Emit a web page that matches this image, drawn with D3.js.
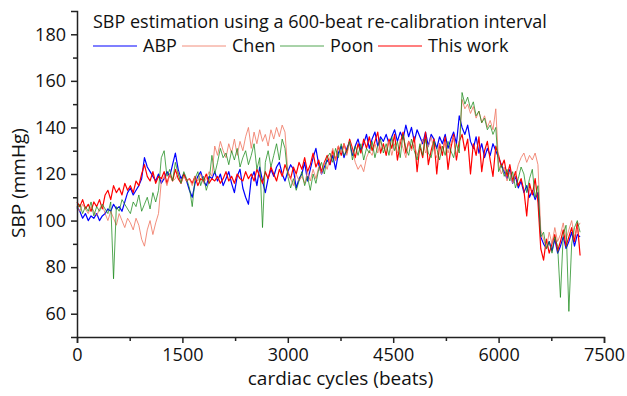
<!DOCTYPE html>
<html>
<head>
<meta charset="utf-8">
<script src="https://cdn.jsdelivr.net/npm/d3@7"></script>
<style>
  body { margin: 0; background: #fff; }
  svg { display: block; font-family: "Open Sans", "Noto Sans", sans-serif; }
</style>
</head>
<body>
<svg width="627" height="396"></svg>
<script>
const width = 627;
const height = 396;
const margin = { top: 11, right: 23, bottom: 59, left: 77 };
const innerWidth = width - margin.left - margin.right;
const innerHeight = height - margin.top - margin.bottom;

// one sample every 40 beats, 0 .. 7160
const beatStep = 40;
const xTicks = [0, 1500, 3000, 4500, 6000, 7500];
const yTicks = [60, 80, 100, 120, 140, 160, 180];

const abp = [
  106,104,101,103,100,102,101,103,100,102,
  103,105,104,107,105,106,104,108,112,114,
  111,113,115,118,127,123,121,119,117,120,
  116,118,121,119,124,129,122,118,120,117,
  113,110,116,119,121,117,115,119,118,121,
  117,120,115,118,121,116,112,119,122,114,
  110,107,118,121,115,123,117,112,118,122,
  119,123,125,120,117,121,124,122,114,118,
  120,125,117,122,127,131,124,120,123,126,
  124,128,122,129,132,127,131,134,128,132,
  135,130,133,137,131,135,138,132,136,134,
  137,133,136,139,134,138,135,141,136,140,
  134,139,136,133,138,132,137,135,131,136,
  133,137,131,135,138,133,145,140,137,141,
  134,131,136,129,133,127,131,128,133,130,
  127,124,121,118,122,116,119,114,117,112,
  115,110,113,109,112,93,90,88,91,87,
  92,86,89,93,88,91,95,89,94,93
];

const thisWork = [
  108,106,109,105,107,104,108,106,109,105,
  111,113,109,115,112,114,111,116,113,115,
  112,117,115,120,124,119,117,121,116,119,
  118,121,116,120,117,122,118,116,120,117,
  118,116,119,115,118,117,120,116,118,117,
  119,116,118,121,117,119,116,120,118,117,
  121,118,120,117,122,119,116,121,118,123,
  120,117,122,119,124,121,118,123,120,125,
  122,127,121,124,129,123,126,121,125,128,
  124,130,126,132,128,133,129,135,131,127,
  133,129,135,131,136,130,134,138,129,133,
  128,135,131,137,126,133,138,129,134,131,
  136,121,132,127,138,124,130,135,120,133,
  128,136,122,131,137,126,134,137,130,135,
  120,133,128,136,121,130,134,126,119,132,
  128,123,126,119,124,117,121,115,118,113,
  102,116,111,118,108,88,83,92,86,90,
  94,87,91,96,89,93,97,91,99,85
];

const chen = [
  106,104,107,105,103,106,104,102,105,107,
  103,100,104,101,98,103,100,97,101,99,
  96,101,98,92,89,96,100,94,99,103,
  117,119,115,120,117,118,121,116,119,117,
  118,115,119,117,120,116,118,121,119,132,
  128,134,130,127,133,129,135,128,134,130,
  136,140,131,138,133,139,134,137,132,139,
  135,140,136,141,138,121,118,115,120,117,
  119,116,121,117,122,118,123,120,125,122,
  127,131,126,132,129,133,128,134,130,125,
  122,124,121,127,130,128,133,129,134,131,
  130,134,128,133,129,135,131,127,134,130,
  133,128,131,135,129,132,136,130,127,133,
  131,134,129,133,136,128,132,152,148,150,
  146,149,144,147,142,145,140,143,139,148,
  124,120,123,117,121,116,119,124,127,129,
  125,128,126,129,124,96,92,88,95,90,
  97,91,94,99,92,96,100,93,97,99
];

const poon = [
  105,107,103,106,104,108,102,106,104,107,
  105,103,108,75,106,104,109,107,105,103,
  108,106,111,104,107,110,105,112,108,113,
  127,130,119,122,117,125,120,116,121,118,
  114,106,118,121,115,119,113,117,128,120,
  125,131,127,129,124,130,126,131,123,127,
  130,124,128,133,122,127,97,125,130,123,
  128,133,126,135,131,119,114,118,113,117,
  121,115,119,113,120,116,122,125,120,127,
  129,125,131,127,133,128,130,134,126,132,
  128,133,126,131,129,134,127,132,135,129,
  133,128,136,130,134,127,137,131,128,135,
  130,126,133,128,135,129,127,134,131,126,
  132,128,134,130,127,133,129,155,150,153,
  148,151,145,147,142,144,139,141,137,140,
  121,124,119,122,117,121,114,118,123,120,
  112,118,122,110,115,93,95,88,91,86,
  93,89,67,94,98,61,90,97,100,95
];

const series = [
  { name: "ABP", values: abp, color: "#0000ff", width: 1.2, opacity: 1 },
  { name: "Chen", values: chen, color: "#f07a66", width: 1, opacity: 0.85 },
  { name: "Poon", values: poon, color: "#1a8a1a", width: 1, opacity: 0.75 },
  { name: "This work", values: thisWork, color: "#ff0000", width: 1.2, opacity: 1 },
];
// draw order in the plot
const drawOrder = ["ABP", "This work", "Chen", "Poon"];

const svg = d3.select("svg");
const g = svg.append("g").attr("transform", `translate(${margin.left},${margin.top})`);

const x = d3.scaleLinear().domain([0, 7500]).range([0, innerWidth]);
const y = d3.scaleLinear().domain([50, 190]).range([innerHeight, 0]);

const line = d3.line()
  .x((d, i) => x(i * beatStep))
  .y((d) => y(d));

drawOrder.forEach((name) => {
  const s = series.find((d) => d.name === name);
  g.append("path")
    .datum(s.values)
    .attr("d", line)
    .attr("fill", "none")
    .attr("stroke", s.color)
    .attr("stroke-width", s.width)
    .attr("stroke-opacity", s.opacity)
    .attr("stroke-linejoin", "round");
});

// axes: major ticks with labels, minor ticks in between
g.append("g")
  .attr("transform", `translate(0,${innerHeight})`)
  .call(d3.axisBottom(x).tickValues(xTicks).tickSize(6).tickPadding(5).tickFormat(d3.format("d")));
g.append("g")
  .attr("transform", `translate(0,${innerHeight})`)
  .call(d3.axisBottom(x).tickValues(d3.range(750, 7500, 1500)).tickSize(4).tickFormat(""))
  .select(".domain").remove();

g.append("g")
  .call(d3.axisLeft(y).tickValues(yTicks).tickSize(6).tickPadding(5));
g.append("g")
  .call(d3.axisLeft(y).tickValues(d3.range(70, 190, 20)).tickSize(4).tickFormat(""))
  .select(".domain").remove();

svg.selectAll(".domain").attr("stroke", "#222").attr("stroke-width", 1.5);
svg.selectAll(".tick line").attr("stroke", "#222").attr("stroke-width", 1.5);
svg.selectAll(".tick text")
  .attr("font-family", "'Open Sans', sans-serif")
  .attr("font-size", 18)
  .attr("fill", "#111");

// axis titles
svg.append("text")
  .attr("x", margin.left + innerWidth / 2)
  .attr("y", 385)
  .attr("text-anchor", "middle")
  .attr("font-size", 19)
  .attr("fill", "#111")
  .text("cardiac cycles (beats)");

svg.append("text")
  .attr("transform", "translate(25,183) rotate(-90)")
  .attr("text-anchor", "middle")
  .attr("font-size", 19)
  .attr("fill", "#111")
  .text("SBP (mmHg)");

// title and legend
svg.append("text")
  .attr("x", 93)
  .attr("y", 28)
  .attr("font-size", 18)
  .attr("fill", "#111")
  .text("SBP estimation using a 600-beat re-calibration interval");

const legendX = [93, 182, 280, 378];
series.forEach((s, i) => {
  const lg = svg.append("g").attr("transform", `translate(${legendX[i]},46)`);
  lg.append("line")
    .attr("x1", 0).attr("x2", 44)
    .attr("stroke", s.color)
    .attr("stroke-width", s.width)
    .attr("stroke-opacity", s.opacity);
  lg.append("text")
    .attr("x", 50)
    .attr("y", 6)
    .attr("font-size", 18)
    .attr("fill", "#111")
    .text(s.name);
});
</script>
</body>
</html>
